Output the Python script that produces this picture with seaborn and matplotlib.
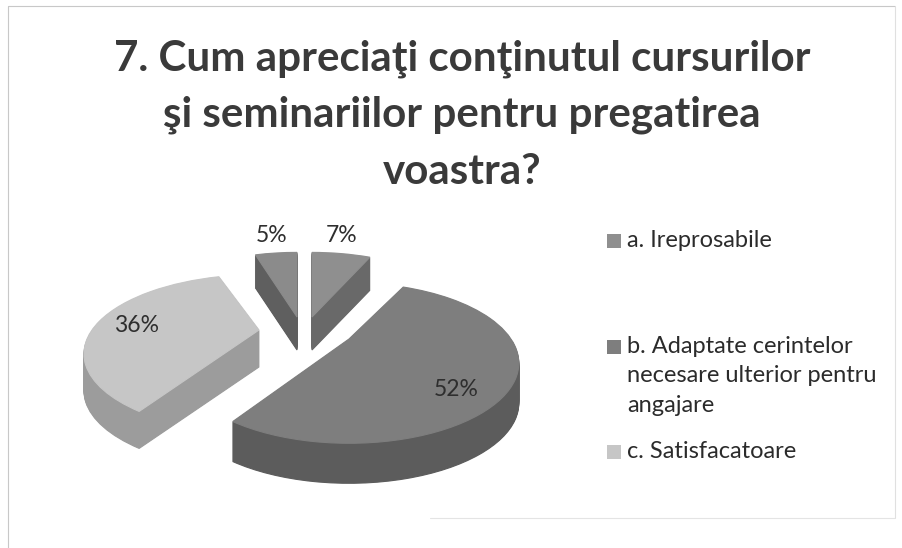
import numpy as np
import matplotlib
matplotlib.use("Agg")
import matplotlib.pyplot as plt
import matplotlib.transforms as mtransforms
import seaborn as sns

titlu = ["7. Cum apreciaţi conţinutul cursurilor", "şi seminariilor pentru pregatirea", "voastra?"]
etichete = ["a. Ireprosabile", "b. Adaptate cerintelor\nnecesare ulterior pentru\nangajare", "c. Satisfacatoare"]
valori = [7, 52, 36, 5]
procente = ["7%", "52%", "36%", "5%"]

culori = ["#8f8f8f", "#7e7e7e", "#c6c6c6", "#8b8b8b"]
culori_lat = ["#696969", "#5c5c5c", "#9c9c9c", "#5f5f5f"]
# varful fiecarei felii pe ecran (pie explodat), grosimea si razele
centru_x = [312, 349, 259, 297]
centru_y = [317, 339, 330, 317]
grosime = [33, 40, 37, 33]
raza_x = [173, 162, 167, 173]
raza_y = [84, 73, 72, 84]


class Perspectiva(mtransforms.Transform):
    input_dims = 2
    output_dims = 2
    has_inverse = False

    def __init__(self, cx, cy, a, b, p=0.3):
        super().__init__()
        self.cx, self.cy, self.a, self.b, self.p = cx, cy, a, b, p

    def transform_non_affine(self, values):
        v = np.asarray(values)
        w = 1 + self.p * v[:, 1]
        return np.column_stack((self.cx + self.a * v[:, 0] / w, self.cy - self.b * v[:, 1] / w))


sns.set_theme(style="white")
plt.rcParams['font.family'] = ['Lato', 'DejaVu Sans']

fig = plt.figure(figsize=(9.02, 5.48), dpi=100, facecolor="white")
ax = fig.add_axes([0, 0, 1, 1])

# grosimea: aceeasi placinta desenata de mai multe ori, de jos in sus
for pas in range(40, -1, -1):
    felii, _ = ax.pie(valori, startangle=90, counterclock=False, wedgeprops={"linewidth": 0.8})
    for i, w in enumerate(felii):
        if pas > grosime[i]:
            w.set_visible(False)
            continue
        c = culori[i] if pas == 0 else culori_lat[i]
        w.set_facecolor(c)
        w.set_edgecolor(c)
        w.set_transform(Perspectiva(centru_x[i], centru_y[i] + pas, raza_x[i], raza_y[i]) + ax.transData)
        w.set_zorder(2 + (40 - pas) * 0.01)

ax.set_aspect("auto")
ax.set_xlim(0, 902)
ax.set_ylim(548, 0)
ax.axis("off")

# chenar
ax.plot([8, 8, 895], [548, 6, 6], color="#c8c8c8", lw=0.8)
ax.plot([895, 895], [6, 518], color="#e0e0e0", lw=0.8)
ax.plot([430, 895], [518, 518], color="#e4e4e4", lw=0.8)

for txt, y in zip(titlu, [59, 115, 172]):
    ax.text(462, y, txt, ha="center", va="center", fontsize=30.3, fontweight="bold", color="#3a3a3a")

for txt, x, y in zip(procente, [342, 456, 137, 272], [236, 389, 326, 235]):
    ax.text(x, y, txt, ha="center", va="center", fontsize=16.5, color="#2e2e2e", zorder=5)

for txt, yq, c in zip(etichete, [240, 346, 451], culori[:3]):
    ax.scatter([614], [yq + 1], marker="s", s=95, color=c, linewidths=0, zorder=5)
    ax.text(627, yq - 10, txt, ha="left", va="top", fontsize=17, color="#2b2b2b",
            linespacing=1.5, zorder=5)

fig.savefig("out.png", dpi=100)
